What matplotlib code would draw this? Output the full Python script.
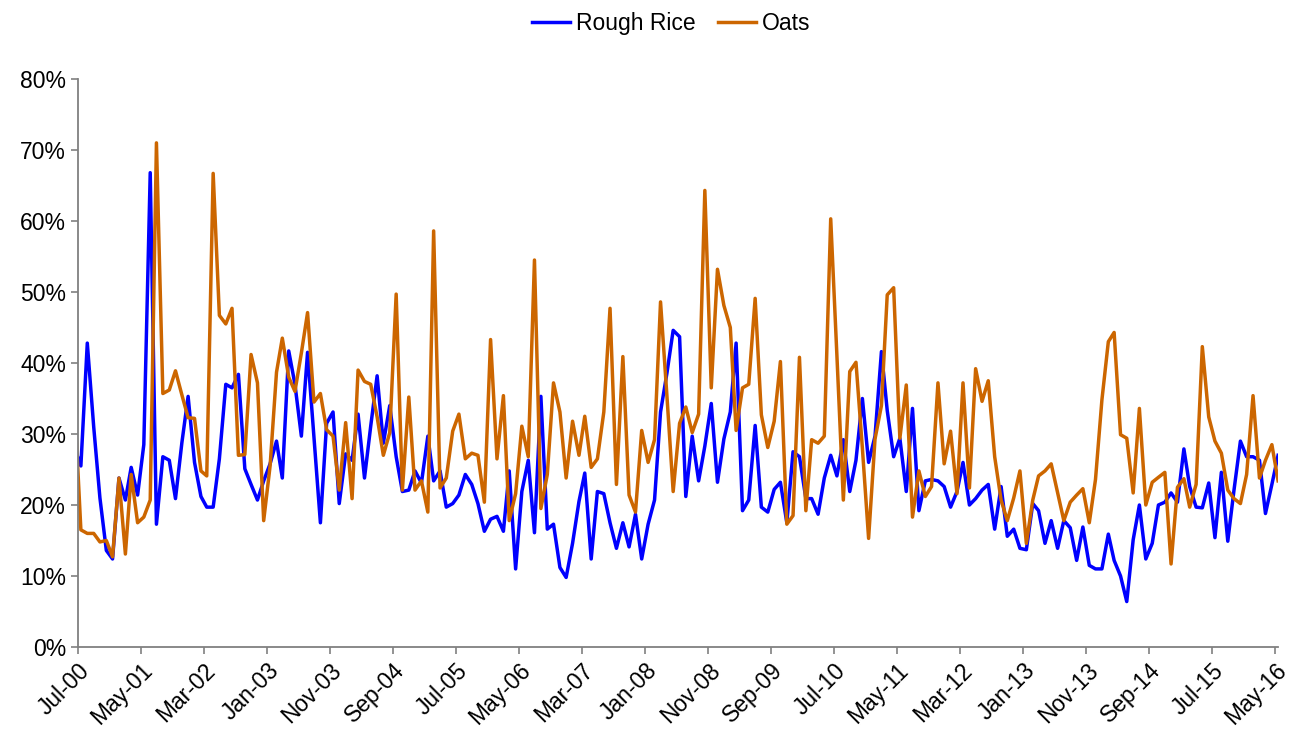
import numpy as np
import pandas as pd
import matplotlib
matplotlib.use("Agg")
import matplotlib.pyplot as plt
import matplotlib.dates as mdates
from matplotlib.ticker import PercentFormatter, MultipleLocator

# monthly observations, mid-month, Jun-00 .. May-16
dates = pd.date_range("2000-06-01", periods=192, freq="MS") + pd.Timedelta(days=14)

rough_rice = [
    28.0, 25.5, 42.8, 31.0, 21.0, 13.6, 12.4, 23.8, 20.7, 25.3,
    21.4, 28.5, 66.8, 17.3, 26.8, 26.3, 20.9, 28.8, 35.3, 26.0,
    21.2, 19.7, 19.7, 26.5, 37.0, 36.5, 38.4, 25.1, 22.9, 20.7,
    23.4, 25.8, 29.0, 23.8, 41.7, 37.0, 29.7, 41.5, 29.5, 17.5,
    31.5, 33.1, 20.2, 27.2, 26.3, 32.8, 23.8, 31.1, 38.2, 28.7,
    34.0, 26.8, 21.9, 22.1, 24.8, 23.1, 29.7, 23.4, 24.8, 19.7,
    20.2, 21.4, 24.3, 22.9, 20.2, 16.3, 18.0, 18.4, 16.3, 24.8,
    11.0, 21.9, 26.3, 16.1, 35.3, 16.6, 17.3, 11.2, 9.8, 14.6,
    20.5, 24.5, 12.4, 21.9, 21.6, 17.5, 13.9, 17.5, 14.1, 18.7,
    12.4, 17.3, 20.7, 33.1, 38.6, 44.6, 43.7, 21.2, 29.7, 23.4,
    28.3, 34.3, 23.2, 29.3, 33.1, 42.8, 19.2, 20.7, 31.2, 19.7,
    19.0, 22.2, 23.2, 17.5, 27.5, 26.8, 20.9, 20.9, 18.7, 23.8,
    27.0, 24.1, 29.2, 21.9, 26.3, 35.0, 26.0, 29.7, 41.6, 33.3,
    26.8, 29.4, 21.9, 33.6, 19.2, 23.4, 23.6, 23.4, 22.6, 19.7,
    21.9, 26.0, 20.0, 20.9, 22.1, 22.9, 16.6, 22.6, 15.6, 16.6,
    13.9, 13.7, 20.2, 19.2, 14.6, 17.8, 13.9, 17.8, 16.8, 12.2,
    16.9, 11.5, 11.0, 11.0, 15.9, 12.2, 10.0, 6.4, 15.1, 20.0,
    12.4, 14.6, 20.0, 20.4, 21.7, 20.4, 27.9, 22.6, 19.7, 19.6,
    23.1, 15.4, 24.6, 14.9, 22.1, 29.0, 26.8, 26.8, 26.3, 18.8,
    22.9, 27.0,
]

oats = [
    34.0, 16.5, 16.0, 16.0, 14.8, 15.0, 12.7, 23.8, 13.1, 24.3,
    17.5, 18.3, 20.7, 71.0, 35.7, 36.2, 38.9, 35.5, 32.3, 32.2,
    24.8, 24.1, 66.7, 46.7, 45.5, 47.7, 27.0, 27.1, 41.2, 37.2,
    17.8, 25.5, 38.7, 43.5, 38.0, 36.0, 41.4, 47.1, 34.5, 35.7,
    30.6, 29.7, 22.1, 31.6, 20.9, 39.0, 37.4, 37.0, 32.4, 27.0,
    30.2, 49.7, 22.1, 35.2, 22.1, 23.4, 19.0, 58.6, 22.4, 23.8,
    30.4, 32.8, 26.5, 27.3, 27.0, 20.4, 43.3, 26.5, 35.4, 17.8,
    21.6, 31.1, 26.8, 54.5, 19.5, 24.3, 37.2, 33.1, 23.8, 31.8,
    27.0, 32.5, 25.3, 26.5, 33.1, 47.7, 22.9, 40.9, 21.4, 19.0,
    30.5, 26.0, 29.2, 48.6, 35.3, 21.9, 31.5, 33.8, 30.2, 32.8,
    64.3, 36.5, 53.2, 48.1, 45.0, 30.5, 36.5, 37.0, 49.1, 32.7,
    28.1, 31.8, 40.2, 17.3, 18.5, 40.8, 19.2, 29.2, 28.7, 29.7,
    60.3, 41.0, 20.7, 38.8, 40.1, 28.0, 15.3, 29.3, 34.0, 49.6,
    50.6, 29.4, 36.9, 18.3, 24.8, 21.2, 22.6, 37.2, 25.8, 30.4,
    21.6, 37.2, 22.4, 39.2, 34.6, 37.5, 26.8, 20.7, 17.8, 21.0,
    24.8, 14.6, 20.7, 24.1, 24.8, 25.8, 21.7, 17.8, 20.4, 21.4,
    22.3, 17.5, 23.6, 34.8, 43.0, 44.3, 29.9, 29.4, 21.7, 33.6,
    20.0, 23.2, 23.9, 24.6, 11.7, 22.5, 23.7, 19.7, 22.9, 42.3,
    32.4, 29.0, 27.3, 22.1, 20.9, 20.2, 24.3, 35.4, 23.8, 26.3,
    28.5, 23.4,
]

tick_dates = pd.date_range("2000-07-01", periods=20, freq="10MS")

plt.rcParams['font.family'] = ['Liberation Sans', 'DejaVu Sans']

fig = plt.figure(figsize=(12.91, 7.36), dpi=100)
ax = fig.add_axes([0.0604, 0.1209, 0.9296, 0.7718])

ax.plot(dates, rough_rice, color="#0000FF", lw=2.5, label="Rough Rice")
ax.plot(dates, oats, color="#CC6600", lw=2.5, label="Oats")

ax.set_xlim(pd.Timestamp("2000-07-01"), dates[-1])
ax.set_ylim(0, 80)
ax.yaxis.set_major_locator(MultipleLocator(10))
ax.yaxis.set_major_formatter(PercentFormatter(decimals=0))

ax.set_xticks(tick_dates)
ax.xaxis.set_major_formatter(mdates.DateFormatter("%b-%y"))
plt.setp(ax.get_xticklabels(), rotation=45, ha="right", rotation_mode="anchor")

for s in ["top", "right"]:
    ax.spines[s].set_visible(False)
for s in ["left", "bottom"]:
    ax.spines[s].set_color("#808080")
    ax.spines[s].set_linewidth(1.3)
ax.tick_params(axis="both", colors="#808080", labelcolor="black",
               labelsize=16.5, length=5, width=1.2)

fig.legend(loc="upper center", bbox_to_anchor=(0.52, 1.012), ncol=2,
           frameon=False, fontsize=16.5, handlelength=1.65,
           columnspacing=1.0, handletextpad=0.25)

plt.savefig("out.png", dpi=100)
